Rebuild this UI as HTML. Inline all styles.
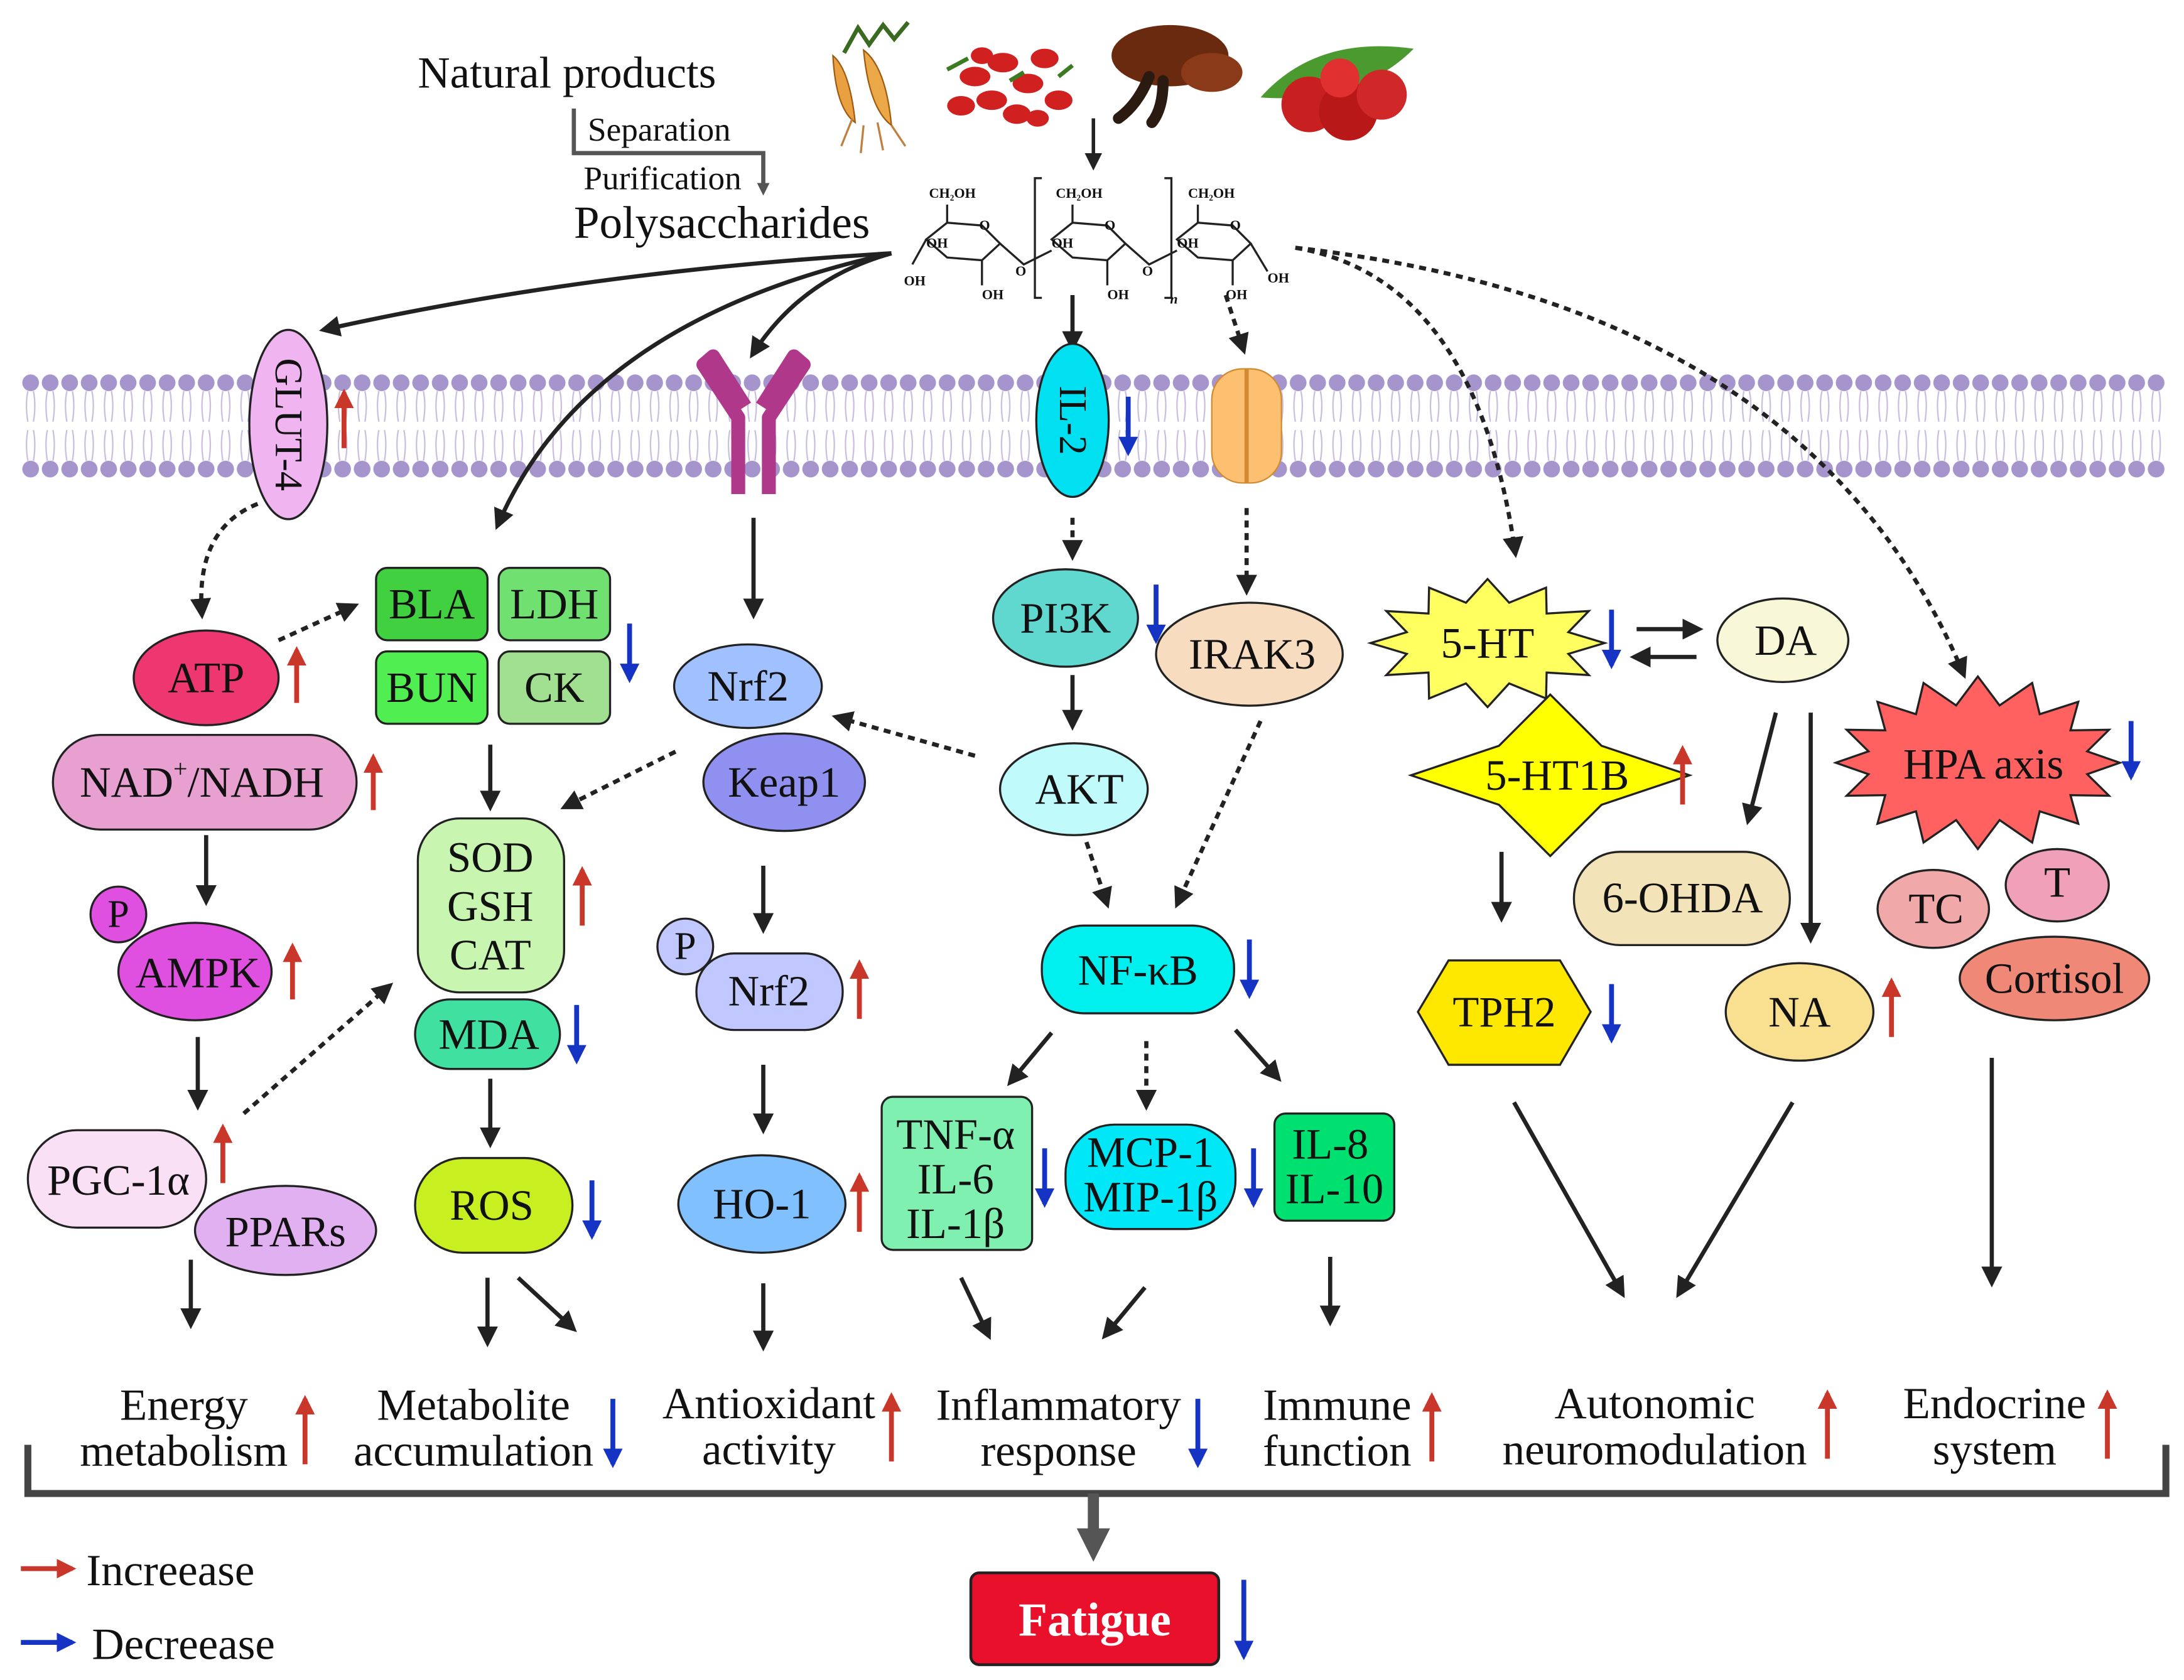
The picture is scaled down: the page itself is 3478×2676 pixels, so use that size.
<!DOCTYPE html>
<html><head><meta charset="utf-8">
<style>
html,body{margin:0;padding:0;background:#fff;}
svg{display:block;}
text{font-family:"Liberation Serif",serif;fill:#111;}
</style></head>
<body>
<svg id="s" width="3478" height="2676" viewBox="0 0 1568 1207" preserveAspectRatio="none" xmlns="http://www.w3.org/2000/svg">
<defs>
<marker id="hk" viewBox="0 0 10 10" refX="8" refY="5" markerWidth="5" markerHeight="5" orient="auto"><path d="M0,0L10,5L0,10z" fill="#222"/></marker>
<marker id="hr" viewBox="0 0 10 10" refX="8" refY="5" markerWidth="4" markerHeight="4" orient="auto"><path d="M0,0L10,5L0,10z" fill="#c8372a"/></marker>
<marker id="hb" viewBox="0 0 10 10" refX="8" refY="5" markerWidth="4" markerHeight="4" orient="auto"><path d="M0,0L10,5L0,10z" fill="#1534c4"/></marker>
<marker id="hg" viewBox="0 0 10 10" refX="5" refY="5" markerWidth="3" markerHeight="3" orient="auto"><path d="M0,0L10,5L0,10z" fill="#555"/></marker>
<pattern id="mem" x="15" y="0" width="14" height="400" patternUnits="userSpaceOnUse">
<circle cx="7" cy="275" r="6" fill="#a595cc"/>
<circle cx="7" cy="337" r="6" fill="#a595cc"/>
<path d="M5,281 q-2,10 0,22 M9,281 q2,10 0,22 M5,309 q-2,10 0,22 M9,309 q2,10 0,22" stroke="#c8bde0" stroke-width="1" fill="none"/>
</pattern>
</defs>
<rect width="1568" height="1207" fill="#fff"/>
<rect x="15" y="265" width="1540" height="82" fill="url(#mem)"/>

<!-- top -->
<text x="300" y="63" font-size="32">Natural products</text>
<text x="422" y="101" font-size="24">Separation</text>
<text x="419" y="136" font-size="24">Purification</text>
<text x="412" y="171" font-size="33">Polysaccharides</text>
<path d="M412,78V110H548V136" stroke="#555" stroke-width="3" fill="none" marker-end="url(#hg)"/>

<!-- natural products pictures -->
<g>
<path d="M598,40 q12,10 16,48 q-14,-10 -16,-48z" fill="#e8a040" stroke="#a05a10"/>
<path d="M620,36 q16,12 20,54 q-16,-12 -20,-54z" fill="#eaa848" stroke="#a05a10"/>
<path d="M606,38 l10,-18 l8,12 l10,-14 l8,10 l10,-12" stroke="#3a6a20" stroke-width="3" fill="none"/>
<path d="M612,85 l-8,20 M630,88 l4,20 M640,90 l10,15 M620,90 l-2,20" stroke="#c08040" stroke-width="1.5"/>
<g fill="#d02020">
<ellipse cx="700" cy="55" rx="11" ry="7"/><ellipse cx="720" cy="45" rx="11" ry="7"/>
<ellipse cx="738" cy="60" rx="11" ry="7"/><ellipse cx="712" cy="72" rx="11" ry="7"/>
<ellipse cx="750" cy="42" rx="10" ry="7"/><ellipse cx="690" cy="76" rx="10" ry="7"/>
<ellipse cx="760" cy="72" rx="10" ry="7"/><ellipse cx="730" cy="82" rx="10" ry="7"/>
<ellipse cx="705" cy="40" rx="8" ry="6"/><ellipse cx="745" cy="85" rx="8" ry="6"/>
</g>
<path d="M680,50 l15,-8 M760,55 l10,-8 M725,58 l10,-6" stroke="#3a7a20" stroke-width="3"/>
<ellipse cx="840" cy="40" rx="42" ry="22" fill="#6a2a10"/>
<ellipse cx="870" cy="52" rx="22" ry="14" fill="#8a3a18"/>
<path d="M825,55 q-8,20 -22,30 M835,58 q0,20 -8,30" stroke="#2a1a10" stroke-width="8" fill="none" stroke-linecap="round"/>
<path d="M905,70 q40,-45 110,-35 q-40,40 -110,35z" fill="#4a9a30"/>
<circle cx="940" cy="75" r="20" fill="#c82020"/><circle cx="968" cy="80" r="21" fill="#b81818"/>
<circle cx="992" cy="68" r="18" fill="#d02828"/><circle cx="962" cy="56" r="14" fill="#e03030"/>
</g>
<line x1="785" y1="85" x2="785" y2="120" stroke="#222" stroke-width="2.5" marker-end="url(#hk)"/>

<!-- polysaccharide structure -->
<g stroke="#222" stroke-width="1.5" fill="none">
<path d="M665,172 L680,160 L705,162 L718,175 L705,187 L680,185 Z"/>
<path d="M755,172 L770,160 L795,162 L808,175 L795,187 L770,185 Z"/>
<path d="M845,172 L860,160 L885,162 L898,175 L885,187 L860,185 Z"/>
<path d="M680,160V147 M770,160V147 M860,160V147 M665,172 L655,190 M705,187V205 M795,187V205 M885,187V205 M718,175 L735,190 L755,180 M808,175 L825,190 L845,180 M898,175 L910,195"/>
<path d="M748,128 h-5 v86 h5 M836,128 h5 v86 h-5"/>
</g>
<g font-size="10" font-weight="bold">
<text x="667" y="142">CH₂OH</text><text x="758" y="142">CH₂OH</text><text x="853" y="142">CH₂OH</text>
<text x="703" y="165">O</text><text x="793" y="165">O</text><text x="883" y="165">O</text>
<text x="665" y="178">OH</text><text x="755" y="178">OH</text><text x="845" y="178">OH</text>
<text x="649" y="205">OH</text><text x="705" y="215">OH</text><text x="795" y="215">OH</text><text x="880" y="215">OH</text><text x="910" y="203">OH</text>
<text x="729" y="198">O</text><text x="820" y="198">O</text><text x="840" y="218" font-style="italic">n</text>
</g>

<!-- arrows -->
<g stroke="#222" stroke-width="3" fill="none" marker-end="url(#hk)">
<path d="M640,182 Q420,195 232,237"/>
<path d="M640,182 Q420,230 357,378"/>
<path d="M640,182 Q575,200 540,255"/>
<line x1="770" y1="212" x2="770" y2="250"/>
<line x1="770" y1="372" x2="770" y2="400" stroke-dasharray="5,4"/>
<line x1="895" y1="365" x2="895" y2="425" stroke-dasharray="5,4"/>
<line x1="880" y1="212" x2="893" y2="252" stroke-dasharray="5,4"/>
<path d="M930,178 Q1060,200 1088,398" stroke-dasharray="5,4"/>
<path d="M930,178 Q1300,220 1410,485" stroke-dasharray="5,4"/>
<path d="M185,362 Q140,380 145,442" stroke-dasharray="5,4"/>
<line x1="200" y1="460" x2="255" y2="435" stroke-dasharray="5,4"/>
<line x1="148" y1="600" x2="148" y2="648"/>
<line x1="142" y1="745" x2="142" y2="795"/>
<line x1="175" y1="800" x2="280" y2="708" stroke-dasharray="5,4"/>
<line x1="137" y1="905" x2="137" y2="952"/>
<line x1="352" y1="535" x2="352" y2="580"/>
<line x1="485" y1="540" x2="405" y2="580" stroke-dasharray="5,4"/>
<line x1="352" y1="775" x2="352" y2="822"/>
<line x1="350" y1="918" x2="350" y2="965"/>
<line x1="372" y1="918" x2="412" y2="955"/>
<line x1="541" y1="372" x2="541" y2="442"/>
<line x1="700" y1="543" x2="600" y2="515" stroke-dasharray="5,4"/>
<line x1="548" y1="622" x2="548" y2="668"/>
<line x1="548" y1="765" x2="548" y2="812"/>
<line x1="548" y1="922" x2="548" y2="968"/>
<line x1="770" y1="485" x2="770" y2="522"/>
<line x1="780" y1="605" x2="795" y2="650" stroke-dasharray="5,4"/>
<line x1="905" y1="518" x2="845" y2="650" stroke-dasharray="5,4"/>
<line x1="755" y1="742" x2="725" y2="778"/>
<line x1="823" y1="748" x2="823" y2="795" stroke-dasharray="5,4"/>
<line x1="887" y1="740" x2="918" y2="775"/>
<line x1="690" y1="918" x2="710" y2="960"/>
<line x1="822" y1="925" x2="793" y2="960"/>
<line x1="955" y1="903" x2="955" y2="950"/>
<line x1="1175" y1="452" x2="1220" y2="452"/>
<line x1="1218" y1="472" x2="1173" y2="472"/>
<line x1="1078" y1="612" x2="1078" y2="660"/>
<line x1="1275" y1="512" x2="1255" y2="590"/>
<line x1="1300" y1="512" x2="1300" y2="675"/>
<line x1="1430" y1="760" x2="1430" y2="922"/>
<line x1="1087" y1="792" x2="1165" y2="930"/>
<line x1="1287" y1="792" x2="1205" y2="930"/>
</g>

<!-- membrane proteins -->
<ellipse cx="207" cy="305" rx="28" ry="68" fill="#f0b4f0" stroke="#222" stroke-width="1.5"/>
<text x="207" y="305" font-size="28" text-anchor="middle" dominant-baseline="central" transform="rotate(90 207 305)">GLUT-4</text>
<path d="M530,355 V300 L505,262 L512,256 L535,292 M552,355 V300 L577,262 L570,256 L547,292" stroke="#b0388a" stroke-width="10" fill="none" stroke-linejoin="round"/>
<ellipse cx="770" cy="302" rx="26" ry="55" fill="#00e0f0" stroke="#222" stroke-width="1.5"/>
<text x="770" y="302" font-size="28" text-anchor="middle" dominant-baseline="central" transform="rotate(90 770 302)">IL-2</text>
<rect x="870" y="265" width="50" height="82" rx="22" fill="#fcc070" stroke="#d08a30"/>
<line x1="895" y1="265" x2="895" y2="347" stroke="#d08a30" stroke-width="3"/>

<!-- nodes -->
<g stroke="#222" stroke-width="1.5">
<ellipse cx="148" cy="487" rx="52" ry="34" fill="#ee3770"/>
<rect x="270" y="408" width="80" height="52" rx="8" fill="#40d040"/>
<rect x="358" y="408" width="80" height="52" rx="8" fill="#70e070"/>
<rect x="270" y="468" width="80" height="52" rx="8" fill="#50ee50"/>
<rect x="358" y="468" width="80" height="52" rx="8" fill="#a0e090"/>
<rect x="38" y="528" width="218" height="68" rx="34" fill="#e8a0d0"/>
<ellipse cx="140" cy="698" rx="55" ry="35" fill="#e050e0"/>
<circle cx="85" cy="657" r="20" fill="#e050e0"/>
<rect x="20" y="812" width="128" height="70" rx="35" fill="#fae0f5"/>
<ellipse cx="205" cy="884" rx="65" ry="32" fill="#e0b0f0"/>
<rect x="300" y="588" width="105" height="125" rx="30" fill="#c8f5b0"/>
<rect x="298" y="718" width="104" height="50" rx="25" fill="#40e0a0"/>
<rect x="298" y="832" width="113" height="68" rx="34" fill="#c8f020"/>
<ellipse cx="537" cy="493" rx="53" ry="30" fill="#a0c0ff"/>
<ellipse cx="563" cy="562" rx="58" ry="35" fill="#9090f0"/>
<rect x="500" y="685" width="105" height="55" rx="27" fill="#c0c8ff"/>
<circle cx="492" cy="680" r="20" fill="#c0c8ff"/>
<ellipse cx="547" cy="865" rx="60" ry="35" fill="#80c0ff"/>
<ellipse cx="765" cy="444" rx="52" ry="35" fill="#60d8d0"/>
<ellipse cx="897" cy="470" rx="67" ry="37" fill="#f8dcc0"/>
<ellipse cx="771" cy="567" rx="53" ry="33" fill="#c0fafa"/>
<rect x="748" y="665" width="138" height="63" rx="30" fill="#00f0f0"/>
<rect x="633" y="788" width="108" height="110" rx="8" fill="#80f0b0"/>
<rect x="765" y="808" width="122" height="75" rx="35" fill="#00e8f8"/>
<rect x="915" y="800" width="86" height="77" rx="8" fill="#00e070"/>
<polygon id="p5ht" fill="#ffff60"/>
<ellipse cx="1280" cy="460" rx="47" ry="30" fill="#f8f8d8"/>
<polygon id="p5ht1b" fill="#ffff00"/>
<rect x="1130" y="612" width="155" height="67" rx="33" fill="#f3e3b8"/>
<polygon points="1040,690 1120,690 1142,727 1120,765 1040,765 1018,727" fill="#ffe800"/>
<ellipse cx="1292" cy="727" rx="53" ry="35" fill="#f8e090"/>
<polygon id="phpa" fill="#ff6060"/>
<ellipse cx="1388" cy="653" rx="40" ry="28" fill="#f0a8a8"/>
<ellipse cx="1477" cy="636" rx="37" ry="26" fill="#f0a0b8"/>
<ellipse cx="1475" cy="703" rx="68" ry="30" fill="#f08878"/>
</g>
<g font-size="31" text-anchor="middle" dominant-baseline="central">
<text x="148" y="487">ATP</text>
<text x="310" y="434">BLA</text><text x="398" y="434">LDH</text>
<text x="310" y="494">BUN</text><text x="398" y="494">CK</text>
<text x="145" y="562">NAD<tspan font-size="18" dy="-10">+</tspan><tspan dy="10">/NADH</tspan></text>
<text x="85" y="657" font-size="28">P</text>
<text x="142" y="699">AMPK</text>
<text x="85" y="848">PGC-1α</text>
<text x="205" y="885">PPARs</text>
<text x="352" y="616">SOD</text><text x="352" y="651">GSH</text><text x="352" y="686">CAT</text>
<text x="351" y="743">MDA</text>
<text x="353" y="866">ROS</text>
<text x="537" y="493">Nrf2</text>
<text x="563" y="562">Keap1</text>
<text x="492" y="680" font-size="28">P</text>
<text x="552" y="712">Nrf2</text>
<text x="547" y="865">HO-1</text>
<text x="765" y="444">PI3K</text>
<text x="899" y="470">IRAK3</text>
<text x="775" y="567">AKT</text>
<text x="817" y="697">NF-κB</text>
<text x="686" y="815">TNF-α</text><text x="686" y="847">IL-6</text><text x="686" y="879">IL-1β</text>
<text x="826" y="828">MCP-1</text><text x="826" y="860">MIP-1β</text>
<text x="955" y="822">IL-8</text><text x="958" y="854">IL-10</text>
<text x="1068" y="462">5-HT</text>
<text x="1282" y="460">DA</text>
<text x="1118" y="557">5-HT1B</text>
<text x="1208" y="645">6-OHDA</text>
<text x="1080" y="727">TPH2</text>
<text x="1292" y="727">NA</text>
<text x="1424" y="549">HPA axis</text>
<text x="1390" y="653">TC</text>
<text x="1477" y="634">T</text>
<text x="1475" y="703">Cortisol</text>
</g>

<!-- up/down arrows -->
<g stroke-width="3.5">
<g stroke="#c8372a" marker-end="url(#hr)">
<line x1="247" y1="322" x2="247" y2="282"/>
<line x1="213" y1="505" x2="213" y2="467"/>
<line x1="268" y1="582" x2="268" y2="544"/>
<line x1="210" y1="718" x2="210" y2="680"/>
<line x1="160" y1="850" x2="160" y2="810"/>
<line x1="418" y1="665" x2="418" y2="625"/>
<line x1="617" y1="732" x2="617" y2="692"/>
<line x1="617" y1="885" x2="617" y2="845"/>
<line x1="1208" y1="578" x2="1208" y2="538"/>
<line x1="1358" y1="745" x2="1358" y2="705"/>
<line x1="219" y1="1052" x2="219" y2="1005"/>
<line x1="640" y1="1050" x2="640" y2="1003"/>
<line x1="1028" y1="1050" x2="1028" y2="1003"/>
<line x1="1312" y1="1048" x2="1312" y2="1001"/>
<line x1="1513" y1="1048" x2="1513" y2="1001"/>
</g>
<g stroke="#1534c4" marker-end="url(#hb)">
<line x1="810" y1="285" x2="810" y2="325"/>
<line x1="452" y1="448" x2="452" y2="488"/>
<line x1="414" y1="722" x2="414" y2="762"/>
<line x1="425" y1="848" x2="425" y2="888"/>
<line x1="830" y1="420" x2="830" y2="460"/>
<line x1="897" y1="675" x2="897" y2="715"/>
<line x1="750" y1="825" x2="750" y2="865"/>
<line x1="900" y1="825" x2="900" y2="865"/>
<line x1="1157" y1="438" x2="1157" y2="478"/>
<line x1="1157" y1="707" x2="1157" y2="747"/>
<line x1="1530" y1="518" x2="1530" y2="558"/>
<line x1="440" y1="1005" x2="440" y2="1052"/>
<line x1="860" y1="1005" x2="860" y2="1052"/>
<line x1="893" y1="1135" x2="893" y2="1190"/>
</g>
</g>

<!-- bottom labels -->
<g font-size="32" text-anchor="middle">
<text x="132" y="1020">Energy</text><text x="132" y="1053">metabolism</text>
<text x="340" y="1020">Metabolite</text><text x="340" y="1053">accumulation</text>
<text x="552" y="1019">Antioxidant</text><text x="552" y="1052">activity</text>
<text x="760" y="1020">Inflammatory</text><text x="760" y="1053">response</text>
<text x="960" y="1020">Immune</text><text x="960" y="1053">function</text>
<text x="1188" y="1019">Autonomic</text><text x="1188" y="1052">neuromodulation</text>
<text x="1432" y="1019">Endocrine</text><text x="1432" y="1052">system</text>
</g>
<path d="M20,1038V1073H1555V1038" stroke="#444" stroke-width="5" fill="none"/>
<line x1="785" y1="1073" x2="785" y2="1110" stroke="#555" stroke-width="8" marker-end="url(#hg)"/>
<rect x="697" y="1130" width="178" height="66" rx="6" fill="#e8102a" stroke="#222" stroke-width="2"/>
<text x="786" y="1175" font-size="34" font-weight="bold" text-anchor="middle" style="fill:#fff">Fatigue</text>

<line x1="15" y1="1127" x2="52" y2="1127" stroke="#c8372a" stroke-width="3.5" marker-end="url(#hr)"/>
<text x="62" y="1139" font-size="32">Increease</text>
<line x1="15" y1="1180" x2="52" y2="1180" stroke="#1534c4" stroke-width="3.5" marker-end="url(#hb)"/>
<text x="66" y="1192" font-size="32">Decreease</text>
</svg>
<script>
function star(id,cx,cy,ro,ryo,ri,ryi,n){var p=[];for(var i=0;i<2*n;i++){var a=Math.PI*i/n;var o=i%2==0;p.push((cx+Math.cos(a)*(o?ro:ri)).toFixed(1)+','+(cy+Math.sin(a)*(o?ryo:ryi)).toFixed(1));}document.getElementById(id).setAttribute('points',p.join(' '));}
star('p5ht',1068,462,84,46,60,30,12);
star('p5ht1b',1113,557,100,58,52,30,4);
star('phpa',1420,548,102,62,80,42,16);
</script>
</body></html>
